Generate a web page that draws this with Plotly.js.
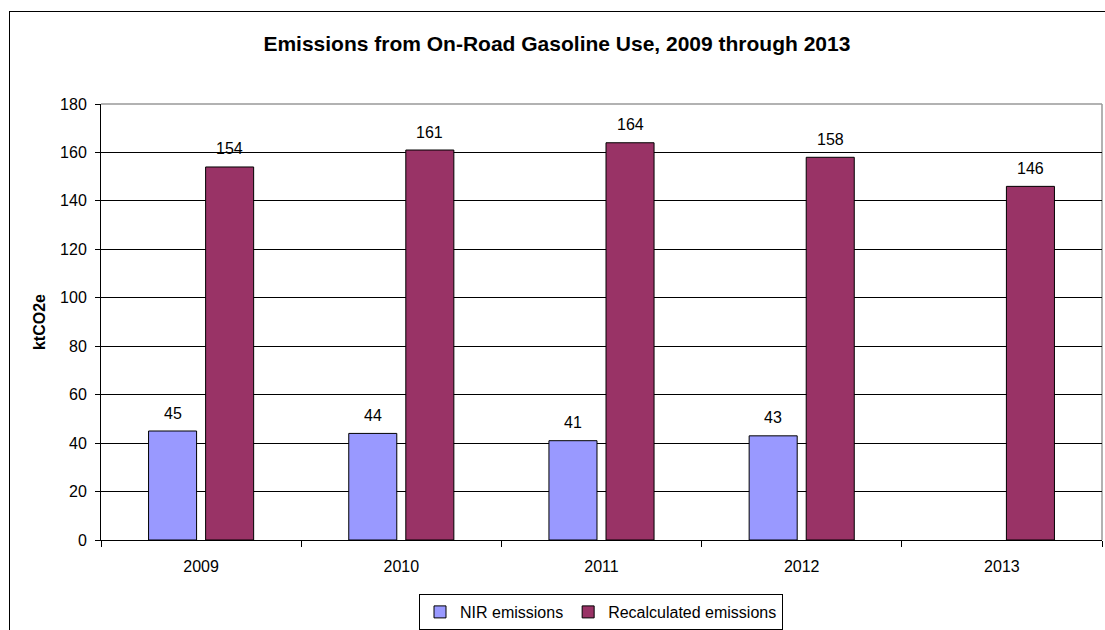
<!DOCTYPE html>
<html>
<head>
<meta charset="utf-8">
<script src="https://cdn.plot.ly/plotly-3.0.1.min.js"></script>
<style>
  html, body { margin: 0; padding: 0; background: #fff; overflow: hidden; }
  #frame { position: absolute; left: 9px; top: 11px; width: 1200px; height: 700px; border: 1.5px solid #000; pointer-events: none; z-index: 2; }
  #chart { position: absolute; left: 0; top: 0; width: 1105px; height: 630px; }
</style>
</head>
<body>
<div id="chart"></div>
<div id="frame"></div>
<script>
const years = ['2009', '2010', '2011', '2012', '2013'];
const nirEmissions = [45, 44, 41, 43, null];
const recalculatedEmissions = [154, 161, 164, 158, 146];
const seriesNames = ['NIR emissions', 'Recalculated emissions'];
const yTicks = [0, 20, 40, 60, 80, 100, 120, 140, 160, 180];

const font = 'Liberation Sans, Arial, sans-serif';
const barShift = 28.5;

function labels(values, shift) {
  const out = [];
  values.forEach((v, i) => {
    if (v === null) return;
    out.push({
      x: i, y: v, xref: 'x', yref: 'y',
      text: String(v), showarrow: false,
      xshift: shift, yshift: 18, yanchor: 'middle',
      font: { family: font, size: 16, color: '#000' }
    });
  });
  return out;
}

const data = [
  {
    type: 'bar', name: seriesNames[0], x: years, y: nirEmissions,
    marker: { color: '#9999FF', line: { color: '#000', width: 1 } },
    hoverinfo: 'x+y'
  },
  {
    type: 'bar', name: seriesNames[1], x: years, y: recalculatedEmissions,
    marker: { color: '#993366', line: { color: '#000', width: 1 } },
    hoverinfo: 'x+y'
  }
];

const layout = {
  width: 1105, height: 630,
  margin: { l: 101, r: 3, t: 104, b: 90, autoexpand: false },
  paper_bgcolor: '#fff', plot_bgcolor: '#fff',
  font: { family: font, size: 16, color: '#000' },
  barmode: 'group', bargap: 0.43, bargroupgap: 0.158,
  title: {
    text: '<b>Emissions from On-Road Gasoline Use, 2009 through 2013</b>',
    font: { family: font, size: 21, color: '#000' },
    xref: 'container', yref: 'container',
    x: 0.504, y: 1 - 44 / 630, xanchor: 'center', yanchor: 'middle'
  },
  xaxis: {
    type: 'category', tickson: 'boundaries', range: [-0.5, 4.5], autorange: false,
    ticks: 'outside', ticklen: 6, tickcolor: '#000', tickwidth: 1,
    showline: true, linecolor: '#000', linewidth: 1, automargin: false,
    showgrid: false, ticklabelstandoff: 12, tickangle: 0,
    tickfont: { family: font, size: 16, color: '#000' }
  },
  yaxis: {
    range: [0, 180], autorange: false, tickvals: yTicks, ticktext: yTicks.map(String),
    ticks: 'outside', ticklen: 5, tickcolor: '#000', tickwidth: 1,
    showline: true, linecolor: '#000', linewidth: 1, automargin: false,
    showgrid: true, gridcolor: '#000', gridwidth: 1, zeroline: false,
    ticklabelstandoff: 5,
    tickfont: { family: font, size: 16, color: '#000' },
    title: { text: '<b>ktCO2e</b>', font: { family: font, size: 16, color: '#000' }, standoff: 10 }
  },
  showlegend: true,
  legend: {
    orientation: 'h', xref: 'container', yref: 'container',
    x: 601 / 1105, xanchor: 'center', y: 1 - 594 / 630, yanchor: 'top',
    bordercolor: '#000', borderwidth: 1, bgcolor: '#fff',
    font: { family: font, size: 16, color: '#000' },
    itemwidth: 30, tracegroupgap: 0
  },
  shapes: [
    { type: 'line', xref: 'paper', yref: 'paper', x0: 0, x1: 1, y0: 1, y1: 1, line: { color: '#999', width: 1.5 }, layer: 'below' },
    { type: 'line', xref: 'paper', yref: 'paper', x0: 1, x1: 1, y0: 0, y1: 1, line: { color: '#999', width: 1.5 }, layer: 'below' }
  ],
  annotations: labels(nirEmissions, -barShift).concat(labels(recalculatedEmissions, barShift))
};

Plotly.newPlot('chart', data, layout, { displayModeBar: false, staticPlot: true });
</script>
</body>
</html>
